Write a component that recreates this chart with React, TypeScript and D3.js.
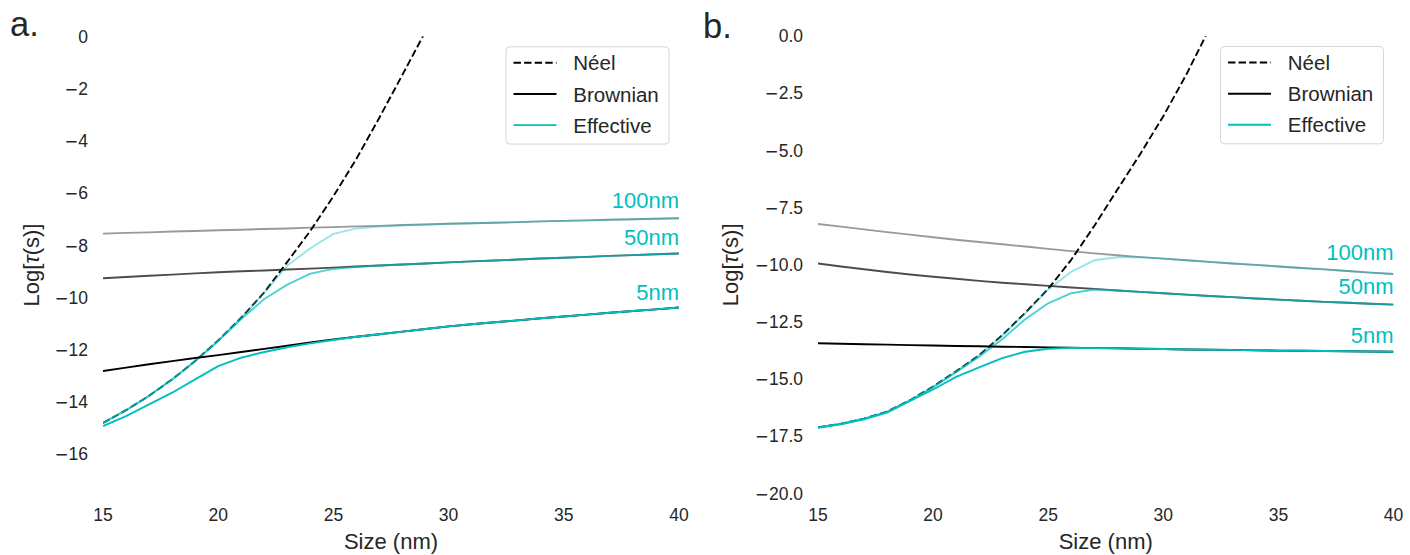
import React from 'react';
import * as d3 from 'd3';

// Particle core sizes (nm) on the x axis
const SIZES = [15, 16, 17, 18, 19, 20, 21, 22, 23, 24, 25, 26, 27, 28, 29, 30, 31, 32, 33, 34, 35, 36, 37, 38, 39, 40];
const X_TICKS = [15, 20, 25, 30, 35, 40];

// Hydrodynamic shell thicknesses, with the opacity used for each
const SHELLS = ['100nm', '50nm', '5nm'];
const SHELL_ALPHA = [0.4, 0.7, 1];

// ---- Panel a ----
const NEEL_SIZES_A = [15, 16, 17, 18, 19, 20, 21, 22, 23, 24, 25, 26, 27, 28, 29];
const NEEL_A = [-14.8, -14.31, -13.76, -13.13, -12.43, -11.64, -10.77, -9.8, -8.63, -7.44, -6.12, -4.68, -3.1, -1.46, 0.2];

const BROWN_100_A = [-7.55, -7.52, -7.5, -7.47, -7.45, -7.42, -7.4, -7.37, -7.35, -7.32, -7.3, -7.27, -7.25, -7.22, -7.2, -7.17, -7.15, -7.13, -7.11, -7.08, -7.06, -7.04, -7.02, -7.0, -6.98, -6.96];
const BROWN_50_A = [-9.26, -9.21, -9.16, -9.12, -9.07, -9.03, -8.99, -8.96, -8.92, -8.89, -8.85, -8.81, -8.77, -8.73, -8.69, -8.65, -8.61, -8.58, -8.54, -8.5, -8.47, -8.44, -8.4, -8.37, -8.34, -8.31];
const BROWN_5_A = [-12.81, -12.68, -12.55, -12.43, -12.31, -12.2, -12.08, -11.96, -11.84, -11.72, -11.6, -11.5, -11.4, -11.3, -11.2, -11.1, -11.02, -10.94, -10.87, -10.79, -10.72, -10.65, -10.58, -10.51, -10.45, -10.38];

const EFF_100_A = [-14.8, -14.31, -13.76, -13.13, -12.43, -11.64, -10.77, -9.81, -8.77, -8.11, -7.56, -7.35, -7.28, -7.24, -7.2, -7.17, -7.15, -7.13, -7.11, -7.08, -7.06, -7.04, -7.02, -7.0, -6.98, -6.96];
const EFF_50_A = [-14.8, -14.31, -13.76, -13.13, -12.44, -11.66, -10.82, -10.05, -9.5, -9.08, -8.9, -8.83, -8.77, -8.73, -8.69, -8.65, -8.61, -8.58, -8.54, -8.5, -8.47, -8.44, -8.4, -8.37, -8.34, -8.31];
const EFF_5_A = [-14.92, -14.54, -14.09, -13.64, -13.13, -12.62, -12.3, -12.08, -11.9, -11.75, -11.62, -11.5, -11.4, -11.3, -11.2, -11.1, -11.02, -10.94, -10.87, -10.79, -10.72, -10.65, -10.58, -10.51, -10.45, -10.38];

const LABEL_Y_A = [-6.57, -7.98, -10.09];
const Y_TICKS_A = [0, -2, -4, -6, -8, -10, -12, -14, -16];

// ---- Panel b ----
const NEEL_SIZES_B = [15, 16, 17, 18, 19, 20, 21, 22, 23, 24, 25, 26, 27, 28, 29, 30, 31, 32];
const NEEL_B = [-17.11, -16.95, -16.73, -16.42, -15.92, -15.32, -14.66, -13.95, -13.08, -12.1, -11.05, -9.78, -8.3, -6.72, -5.15, -3.5, -1.68, 0.33];

const BROWN_100_B = [-8.21, -8.33, -8.45, -8.57, -8.68, -8.79, -8.9, -9.0, -9.1, -9.2, -9.3, -9.4, -9.5, -9.58, -9.66, -9.73, -9.8, -9.87, -9.94, -10.0, -10.07, -10.14, -10.2, -10.27, -10.34, -10.4];
const BROWN_50_B = [-9.94, -10.07, -10.19, -10.31, -10.42, -10.52, -10.61, -10.7, -10.78, -10.85, -10.92, -10.99, -11.05, -11.12, -11.18, -11.24, -11.3, -11.36, -11.41, -11.47, -11.52, -11.57, -11.62, -11.66, -11.7, -11.74];
const BROWN_5_B = [-13.43, -13.45, -13.47, -13.49, -13.51, -13.53, -13.55, -13.56, -13.58, -13.59, -13.61, -13.62, -13.64, -13.65, -13.67, -13.68, -13.7, -13.71, -13.72, -13.74, -13.75, -13.76, -13.77, -13.78, -13.79, -13.8];

const EFF_100_B = [-17.11, -16.95, -16.73, -16.42, -15.92, -15.33, -14.67, -13.96, -13.1, -12.13, -11.08, -10.3, -9.8, -9.67, -9.66, -9.73, -9.8, -9.87, -9.94, -10.0, -10.07, -10.14, -10.2, -10.27, -10.34, -10.4];
const EFF_50_B = [-17.11, -16.95, -16.73, -16.43, -15.94, -15.35, -14.7, -14.02, -13.25, -12.38, -11.68, -11.24, -11.08, -11.12, -11.18, -11.24, -11.3, -11.36, -11.41, -11.47, -11.52, -11.57, -11.62, -11.66, -11.7, -11.74];
const EFF_5_B = [-17.13, -16.97, -16.76, -16.46, -15.95, -15.45, -14.9, -14.48, -14.08, -13.8, -13.67, -13.63, -13.64, -13.65, -13.67, -13.68, -13.7, -13.71, -13.72, -13.74, -13.75, -13.76, -13.77, -13.78, -13.79, -13.8];

const LABEL_Y_B = [-9.79, -11.27, -13.42];
const Y_TICKS_B = [0, -2.5, -5, -7.5, -10, -12.5, -15, -17.5, -20];

const LEGEND_ITEMS = ['Néel', 'Brownian', 'Effective'];

const FONT = "'Liberation Sans', Arial, Helvetica, sans-serif";
const MINUS_FONT = "'DejaVu Sans', sans-serif";
const INK = '#262626';
const CYAN = '#00BFBF';

type PanelProps = {
  id: string;
  tag: string;
  tagX: number;
  tagY: number;
  left: number;
  right: number;
  top: number;
  bottom: number;
  yDomain: [number, number];
  yTicks: number[];
  yFormat: (v: number) => string;
  yLabelX: number;
  neelX: number[];
  neelY: number[];
  brown: number[][];
  eff: number[][];
  labelY: number[];
};

// Tick text with a wider minus glyph
function TickText({ s }: { s: string }) {
  if (s.startsWith('−')) {
    return (
      <>
        <tspan fontFamily={MINUS_FONT} fontSize={16.5}>
          −
        </tspan>
        <tspan>{s.slice(1)}</tspan>
      </>
    );
  }
  return <>{s}</>;
}

function Panel(p: PanelProps) {
  const x = d3.scaleLinear().domain([15, 40]).range([p.left, p.right]);
  const y = d3.scaleLinear().domain(p.yDomain).range([p.bottom, p.top]);
  const line = d3
    .line<[number, number]>()
    .x((d) => x(d[0]))
    .y((d) => y(d[1]));
  const pairs = (xs: number[], ys: number[]) => xs.map((v, i) => [v, ys[i]] as [number, number]);
  const clipId = `clip-${p.id}`;
  const lw = 1.9;

  const legRight = p.right - 10;
  const legLeft = legRight - 163;
  const legTop = p.top + 10.3;
  const rows = [p.top + 26.3, p.top + 57.5, p.top + 88.6];

  return (
    <g>
      <defs>
        <clipPath id={clipId}>
          <rect x={p.left} y={p.top} width={p.right - p.left} height={p.bottom - p.top} />
        </clipPath>
      </defs>

      {/* panel tag */}
      <text x={p.tagX} y={p.tagY} fontSize={34.5} fill={INK} fontFamily={FONT}>
        {p.tag}
      </text>

      {/* y tick labels */}
      {p.yTicks.map((t) => (
        <text
          key={`y${t}`}
          x={p.left - 15}
          y={y(t)}
          dy="0.35em"
          textAnchor="end"
          fontSize={17.5}
          fill={INK}
          fontFamily={FONT}
        >
          <TickText s={p.yFormat(t)} />
        </text>
      ))}

      {/* x tick labels */}
      {X_TICKS.map((t) => (
        <text
          key={`x${t}`}
          x={x(t)}
          y={p.bottom + 27}
          textAnchor="middle"
          fontSize={17.5}
          fill={INK}
          fontFamily={FONT}
        >
          {t}
        </text>
      ))}

      {/* axis titles */}
      <text
        x={(p.left + p.right) / 2}
        y={549}
        textAnchor="middle"
        fontSize={22}
        fill={INK}
        fontFamily={FONT}
      >
        Size (nm)
      </text>
      <text
        transform={`translate(${p.yLabelX},${(p.top + p.bottom) / 2}) rotate(-90)`}
        textAnchor="middle"
        fontSize={22}
        fill={INK}
        fontFamily={FONT}
      >
        Log[<tspan fontStyle="italic">τ</tspan>(s)]
      </text>

      {/* curves */}
      <g clipPath={`url(#${clipId})`} fill="none" strokeLinejoin="round">
        <path
          d={line(pairs(p.neelX, p.neelY)) || ''}
          stroke="#000"
          strokeWidth={lw}
          strokeDasharray="7.4 3.2"
        />
        {SHELLS.map((s, i) => (
          <g key={s}>
            <path
              d={line(pairs(SIZES, p.brown[i])) || ''}
              stroke="#000"
              strokeOpacity={SHELL_ALPHA[i]}
              strokeWidth={lw}
            />
            <path
              d={line(pairs(SIZES, p.eff[i])) || ''}
              stroke={CYAN}
              strokeOpacity={SHELL_ALPHA[i]}
              strokeWidth={lw}
            />
          </g>
        ))}
      </g>

      {/* shell annotations */}
      {SHELLS.map((s, i) => (
        <text
          key={`lab${s}`}
          x={p.right}
          y={y(p.labelY[i])}
          textAnchor="end"
          fontSize={22}
          fill={CYAN}
          fontFamily={FONT}
        >
          {s}
        </text>
      ))}

      {/* legend */}
      <rect
        x={legLeft}
        y={legTop}
        width={163}
        height={97.3}
        rx={4}
        fill="#fff"
        fillOpacity={0.8}
        stroke="#d6d6d6"
        strokeWidth={1}
      />
      {LEGEND_ITEMS.map((name, i) => (
        <g key={name}>
          <line
            x1={legLeft + 7.5}
            x2={legLeft + 50.5}
            y1={rows[i]}
            y2={rows[i]}
            stroke={i === 2 ? CYAN : '#000'}
            strokeWidth={lw}
            strokeDasharray={i === 0 ? '7.4 3.2' : undefined}
          />
          <text
            x={legLeft + 67.3}
            y={rows[i] + 7.6}
            fontSize={20.5}
            fill={INK}
            fontFamily={FONT}
          >
            {name}
          </text>
        </g>
      ))}
    </g>
  );
}

export default function App() {
  const fmtA = d3.format('d');
  const fmtB = d3.format('.1f');
  return (
    <svg
      width={1410}
      height={555}
      viewBox="0 0 1410 555"
      style={{ position: 'absolute', left: 0, top: 0, display: 'block', background: '#fff' }}
    >
      <rect x={0} y={0} width={1410} height={555} fill="#fff" />
      <Panel
        id="a"
        tag="a."
        tagX={10}
        tagY={35.5}
        left={103}
        right={679}
        top={36.5}
        bottom={493.5}
        yDomain={[-17.5, 0]}
        yTicks={Y_TICKS_A}
        yFormat={fmtA}
        yLabelX={38.5}
        neelX={NEEL_SIZES_A}
        neelY={NEEL_A}
        brown={[BROWN_100_A, BROWN_50_A, BROWN_5_A]}
        eff={[EFF_100_A, EFF_50_A, EFF_5_A]}
        labelY={LABEL_Y_A}
      />
      <Panel
        id="b"
        tag="b."
        tagX={703}
        tagY={38}
        left={818}
        right={1393.5}
        top={36.2}
        bottom={493.5}
        yDomain={[-20, 0]}
        yTicks={Y_TICKS_B}
        yFormat={fmtB}
        yLabelX={738}
        neelX={NEEL_SIZES_B}
        neelY={NEEL_B}
        brown={[BROWN_100_B, BROWN_50_B, BROWN_5_B]}
        eff={[EFF_100_B, EFF_50_B, EFF_5_B]}
        labelY={LABEL_Y_B}
      />
    </svg>
  );
}
